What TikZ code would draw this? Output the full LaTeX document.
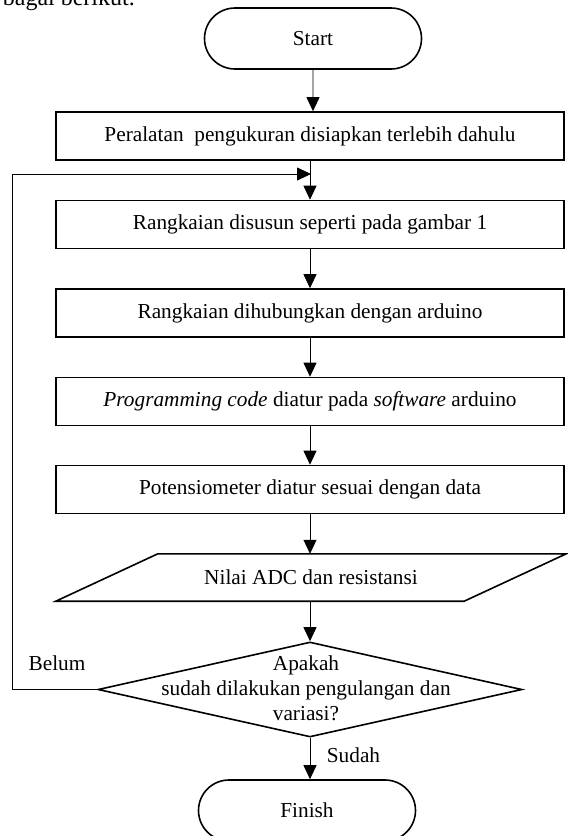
\documentclass[tikz,border=0pt]{standalone}
\usepackage{fontspec}
\setmainfont{Liberation Serif}
\usetikzlibrary{arrows.meta,shapes.misc,shapes.geometric}

\begin{document}
\begin{tikzpicture}[
  x=1pt, y=-1pt,
  every node/.style = {font=\fontsize{21.3}{25}\selectfont, inner sep=0pt},
  terminal/.style   = {draw, line width=1.6pt, rounded rectangle,
                       minimum width=217pt, minimum height=61pt},
  process/.style    = {draw, line width=1.6pt, minimum width=508pt, minimum height=48pt},
  io/.style         = {minimum width=510pt, minimum height=47pt},
  iobox/.style      = {line width=1.6pt, line join=miter},
  decision/.style   = {draw, line width=1.6pt, diamond, minimum width=424pt, minimum height=95pt},
  flow/.style       = {line width=0.8pt, -{Triangle[length=14pt,width=13pt]}},
  lbl/.style        = {align=center},
  caption/.style    = {font=\fontsize{24}{28}\selectfont, anchor=base east},
]
  \useasboundingbox (0,0) rectangle (568,836);
  \clip (0,0) rectangle (568,836);

  % the page text above the chart, cut by the top edge
  \node[caption] (caption) at (135,5) {bagai berikut.};

  \node[terminal] (start) at (313,38.5) {Start};
  \node[process] (prep) at (310,136) {Peralatan~ pengukuran disiapkan terlebih dahulu};
  \node[process] (assemble) at (310,224.5) {Rangkaian disusun seperti pada gambar 1};
  \node[process] (connect) at (310,313) {Rangkaian dihubungkan dengan arduino};
  \node[process] (code) at (310,401.5) {\textit{Programming code} diatur pada \textit{software} arduino};
  \node[process] (pot) at (310,489.5) {Potensiometer diatur sesuai dengan data};
  \node[io] (adc) at (311,577.5) {Nilai ADC dan resistansi};
  \node[decision] (check) at (310,689.5) {};
  \node[lbl] (checktext) at (306,688) {Apakah\\ sudah dilakukan pengulangan dan\\ variasi?};
  \node[terminal] (finish) at (307,810.5) {Finish};
  \coordinate (join) at (311,174);

  \node (belum) at (57,663) {Belum};
  \node (sudah) at (353.5,755) {Sudah};

  % data box: slanted sides, 102pt offset
  \draw[iobox] ([xshift=102pt]adc.north west) -- (adc.north east)
    -- ([xshift=-102pt]adc.south east) -- (adc.south west) -- cycle;

  \draw[flow] (start) -- (start |- prep.north);
  \draw[flow] (prep) -- (assemble);
  \draw[flow] (assemble) -- (connect);
  \draw[flow] (connect) -- (code);
  \draw[flow] (code) -- (pot);
  \draw[flow] (pot) -- (pot |- adc.north);
  \draw[flow] (check |- adc.south) -- (check);
  \draw[flow] (check) -- (check |- finish.north);

  % not yet: back to the step after preparation
  \draw[flow] (check.west) -- ++(-85,0) |- (join);
\end{tikzpicture}
\end{document}
